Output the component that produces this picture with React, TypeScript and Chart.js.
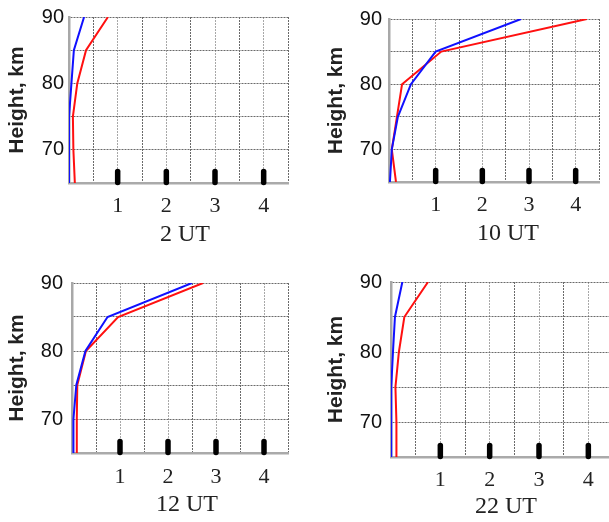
import React, { useEffect, useRef } from "react";
import { Chart, registerables } from "chart.js";

Chart.register(...registerables);

// ---- data ----
const heights = [65, 70, 75, 80, 85, 90];
const panelTitles = ["2 UT", "10 UT", "12 UT", "22 UT"];
const blue2UT = [0.0, 0.0, 0.0, 0.05, 0.1, 0.31];
const red2UT = [0.12, 0.09, 0.08, 0.17, 0.35, 0.8];
const blue10UT = [0.02, 0.06, 0.19, 0.47, 1.0, 2.83];
const red10UT = [0.15, 0.06, 0.17, 0.28, 1.12, 4.24];
const blue12UT = [0.03, 0.03, 0.09, 0.28, 0.74, 2.5];
const red12UT = [0.1, 0.1, 0.11, 0.29, 0.96, 2.73];
const blue22UT = [0.0, 0.0, 0.01, 0.04, 0.08, 0.23];
const red22UT = [0.12, 0.11, 0.09, 0.16, 0.27, 0.75];
const blueSeries = [blue2UT, blue10UT, blue12UT, blue22UT];
const redSeries = [red2UT, red10UT, red12UT, red22UT];
const xTickLabels = [1, 2, 3, 4];
const yTickLabels = [70, 80, 90];

// ---- layout (canvas box and plot-area edges in page pixels) ----
const layouts = [
  { left: 0, top: 0, w: 300, h: 260, L: 69, R: 288, T: 12, B: 183, yLabPad: 5, yTitleX: 17, xLabPad: 10, capX: 185, capY: 235 },
  { left: 300, top: 0, w: 309, h: 260, L: 389, R: 605, T: 10, B: 182, yLabPad: 7, yTitleX: 336, xLabPad: 10, capX: 508, capY: 234 },
  { left: 0, top: 260, w: 300, h: 262, L: 72, R: 288, T: 283, B: 453, yLabPad: 9, yTitleX: 17, xLabPad: 11, capX: 187, capY: 505 },
  { left: 300, top: 260, w: 330, h: 262, L: 391, R: 613, T: 282, B: 457, yLabPad: 9, yTitleX: 336, xLabPad: 10, capX: 506, capY: 507 },
];

const SERIF = "'Liberation Serif', 'Times New Roman', serif";
const SANS = "'Liberation Sans', Arial, sans-serif";

const tickMarkPlugin = {
  id: "thickTicks",
  afterDatasetsDraw(chart: any) {
    const xs = chart.scales.x;
    const area = chart.chartArea;
    const ctx = chart.ctx;
    ctx.save();
    ctx.strokeStyle = "#000";
    ctx.lineWidth = 5.5;
    ctx.lineCap = "round";
    xTickLabels.forEach((v) => {
      const px = xs.getPixelForValue(v);
      ctx.beginPath();
      ctx.moveTo(px, area.bottom - 0.5);
      ctx.lineTo(px, area.bottom - 11.5);
      ctx.stroke();
    });
    ctx.restore();
  },
};

function makeCaptionPlugin(text: string, cx: number, cy: number) {
  return {
    id: "caption",
    afterDraw(chart: any) {
      const ctx = chart.ctx;
      ctx.save();
      ctx.font = `24px ${SERIF}`;
      ctx.fillStyle = "#222";
      ctx.textAlign = "center";
      ctx.textBaseline = "middle";
      ctx.fillText(text, cx, cy);
      ctx.restore();
    },
  };
}

function Panel({ idx }: { idx: number }) {
  const ref = useRef<HTMLCanvasElement>(null);
  const lay = layouts[idx];
  useEffect(() => {
    if (!ref.current) return;
    const yAxisW = lay.L - lay.left;
    const xAxisH = lay.top + lay.h - lay.B;
    const chart = new Chart(ref.current, {
      type: "line",
      data: {
        datasets: [
          {
            label: "blue",
            data: heights.map((h, i) => ({ x: blueSeries[idx][i], y: h })),
            borderColor: "#1010ff",
            borderWidth: 2,
            pointRadius: 0,
            tension: 0,
          },
          {
            label: "red",
            data: heights.map((h, i) => ({ x: redSeries[idx][i], y: h })),
            borderColor: "#ff1010",
            borderWidth: 2,
            pointRadius: 0,
            tension: 0,
          },
        ],
      },
      options: {
        animation: false,
        responsive: false,
        devicePixelRatio: 1,
        layout: {
          autoPadding: false,
          padding: { left: 0, bottom: 0, top: lay.T - lay.top, right: lay.left + lay.w - lay.R },
        },
        plugins: { legend: { display: false }, tooltip: { enabled: false }, title: { display: false } },
        scales: {
          x: {
            type: "linear",
            position: "bottom",
            min: 0,
            max: 4.5,
            afterFit: (s: any) => {
              s.height = xAxisH;
            },
            ticks: {
              stepSize: 0.5,
              autoSkip: false,
              maxRotation: 0,
              padding: lay.xLabPad,
              color: "#222",
              font: { family: SERIF, size: 22 },
              callback: (v: any) => (xTickLabels.includes(Number(v)) ? String(v) : ""),
            },
            grid: {
              drawTicks: false,
              lineWidth: 1,
              color: (c: any) =>
                c.tick && Number.isInteger(c.tick.value) && c.tick.value > 0 ? "#a8a8a8" : "#6a6a6a",
            },
            border: { display: true, color: "#aaaaaa", width: 2.5, dash: [2, 1] },
            title: { display: false },
          },
          y: {
            type: "linear",
            position: "left",
            min: 65,
            max: 90,
            afterFit: (s: any) => {
              s.width = yAxisW;
            },
            ticks: {
              stepSize: 5,
              padding: lay.yLabPad,
              color: "#111",
              font: { family: SANS, size: 20 },
              callback: (v: any) => (yTickLabels.includes(Number(v)) ? String(v) : ""),
            },
            grid: { drawTicks: false, lineWidth: 1, color: "#6a6a6a" },
            border: { display: true, color: "#a8a8a8", width: 2.5, dash: [2, 1] },
            title: {
              display: true,
              text: "Height, km",
              color: "#222",
              font: { family: SANS, size: 21, weight: "bold" },
              padding: { top: lay.yTitleX - lay.left - 12.6, bottom: 0 },
            },
          },
        },
      },
      plugins: [tickMarkPlugin, makeCaptionPlugin(panelTitles[idx], lay.capX - lay.left, lay.capY - lay.top)],
    } as any);
    return () => chart.destroy();
  }, [idx]);
  return (
    <canvas
      ref={ref}
      width={lay.w}
      height={lay.h}
      style={{ position: "absolute", left: lay.left, top: lay.top, width: lay.w, height: lay.h }}
    />
  );
}

export default function App() {
  return (
    <div
      style={{
        position: "fixed",
        left: 0,
        top: 0,
        width: 609,
        height: 522,
        overflow: "hidden",
        background: "#fff",
      }}
    >
      {layouts.map((_, i) => (
        <Panel key={i} idx={i} />
      ))}
    </div>
  );
}
